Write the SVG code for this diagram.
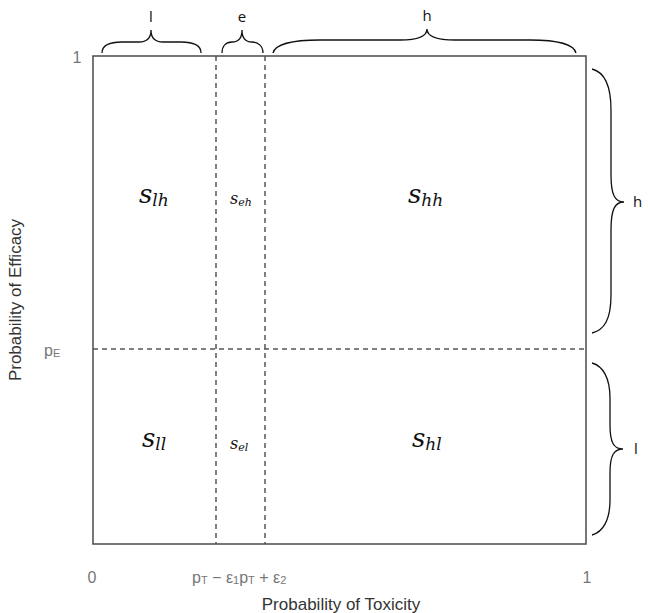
<svg xmlns="http://www.w3.org/2000/svg" width="648" height="613" viewBox="0 0 648 613">
<style>
.frame{fill:none;stroke:#555;stroke-width:1.6}
.dash{fill:none;stroke:#555;stroke-width:1.5;stroke-dasharray:5 4}
.brace{fill:none;stroke:#111;stroke-width:1.3}
.blab{font-family:"Open Sans","Liberation Sans",sans-serif;font-size:15px;fill:#111}
.ax{font-family:"Liberation Sans",Arial,sans-serif;font-size:16px;fill:#777}
.ax .sb{font-size:11px}
.title{font-family:"Liberation Sans",Arial,sans-serif;font-size:17px;fill:#333}
.big{font-family:"DejaVu Serif","Liberation Serif",serif;font-style:italic;font-size:26px;fill:#111}
.big .sub{font-size:17px}
.small{font-family:"DejaVu Serif","Liberation Serif",serif;font-style:italic;font-size:16px;fill:#111}
.small .sub{font-size:11px}
</style>
<rect width="648" height="613" fill="#fff"/>
<g id="plot">
<rect class="frame" x="93" y="56" width="493" height="488"/>
</g>
<g id="connectors">
<line class="dash" x1="216" y1="56" x2="216" y2="544"/>
<line class="dash" x1="265" y1="56" x2="265" y2="544"/>
<line class="dash" x1="93" y1="349" x2="586" y2="349"/>
</g>
<g id="braces">
<path class="brace" d="M102,53 C102,45 110,42 122,42 L139,42 C147,42 151,38 151,30 C151,38 155,42 163,42 L181,42 C193,42 201,45 201,53"/>
<path class="brace" d="M222,53 C222,46 226,42 232,42 C238,42 242,38 242,30 C242,38 246,42 252,42 C258,42 263,46 263,53"/>
<path class="brace" d="M273,53 C275,45 290,40 320,40 L400,40 C420,40 427,36 427,29 C427,36 434,40 455,40 L530,40 C560,40 574,45 576,53"/>
<path class="brace" d="M592,69 C604,72 611,85 611,110 L611,175 C611,195 615,202 624,202 C615,202 611,209 611,230 L611,295 C611,320 604,330 592,333"/>
<path class="brace" d="M592,363 C603,366 610,378 610,398 L610,425 C610,443 614,449 623,449 C614,449 610,455 610,473 L610,500 C610,520 603,532 592,535"/>
</g>
<g id="brace-labels">
<text class="blab" x="151" y="22" text-anchor="middle">l</text>
<text class="blab" x="242" y="22" text-anchor="middle">e</text>
<text class="blab" x="427" y="21" text-anchor="middle">h</text>
<text class="blab" x="633" y="207">h</text>
<text class="blab" x="634" y="454">l</text>
</g>
<g id="regions">
<g id="s_lh"><text class="big" x="139" y="203">s<tspan class="sub" dy="3">lh</tspan></text></g>
<g id="s_eh"><text class="small" x="230" y="204">s<tspan class="sub" dy="2">eh</tspan></text></g>
<g id="s_hh"><text class="big" x="408" y="203">s<tspan class="sub" dy="3">hh</tspan></text></g>
<g id="s_ll"><text class="big" x="142" y="447">s<tspan class="sub" dy="3">ll</tspan></text></g>
<g id="s_el"><text class="small" x="230" y="449">s<tspan class="sub" dy="2">el</tspan></text></g>
<g id="s_hl"><text class="big" x="412" y="447">s<tspan class="sub" dy="3">hl</tspan></text></g>
</g>
<g id="axes">
<text class="ax" x="77" y="63" text-anchor="middle">1</text>
<text class="ax" x="44" y="356">p<tspan class="sb" dy="1">E</tspan></text>
<text class="ax" x="92" y="583" text-anchor="middle">0</text>
<text class="ax" x="587" y="583" text-anchor="middle">1</text>
<text class="ax" x="192" y="583" font-size="15">p<tspan class="sb" dy="1">T</tspan><tspan dy="-1"> − ε</tspan><tspan class="sb" dy="1">1</tspan><tspan dy="-1">p</tspan><tspan class="sb" dy="1">T</tspan><tspan dy="-1"> + ε</tspan><tspan class="sb" dy="1">2</tspan></text>
<text class="title" x="341" y="610" text-anchor="middle">Probability of Toxicity</text>
<text class="title" x="0" y="0" text-anchor="middle" transform="translate(21,300) rotate(-90)">Probability of Efficacy</text>
</g>
</svg>
